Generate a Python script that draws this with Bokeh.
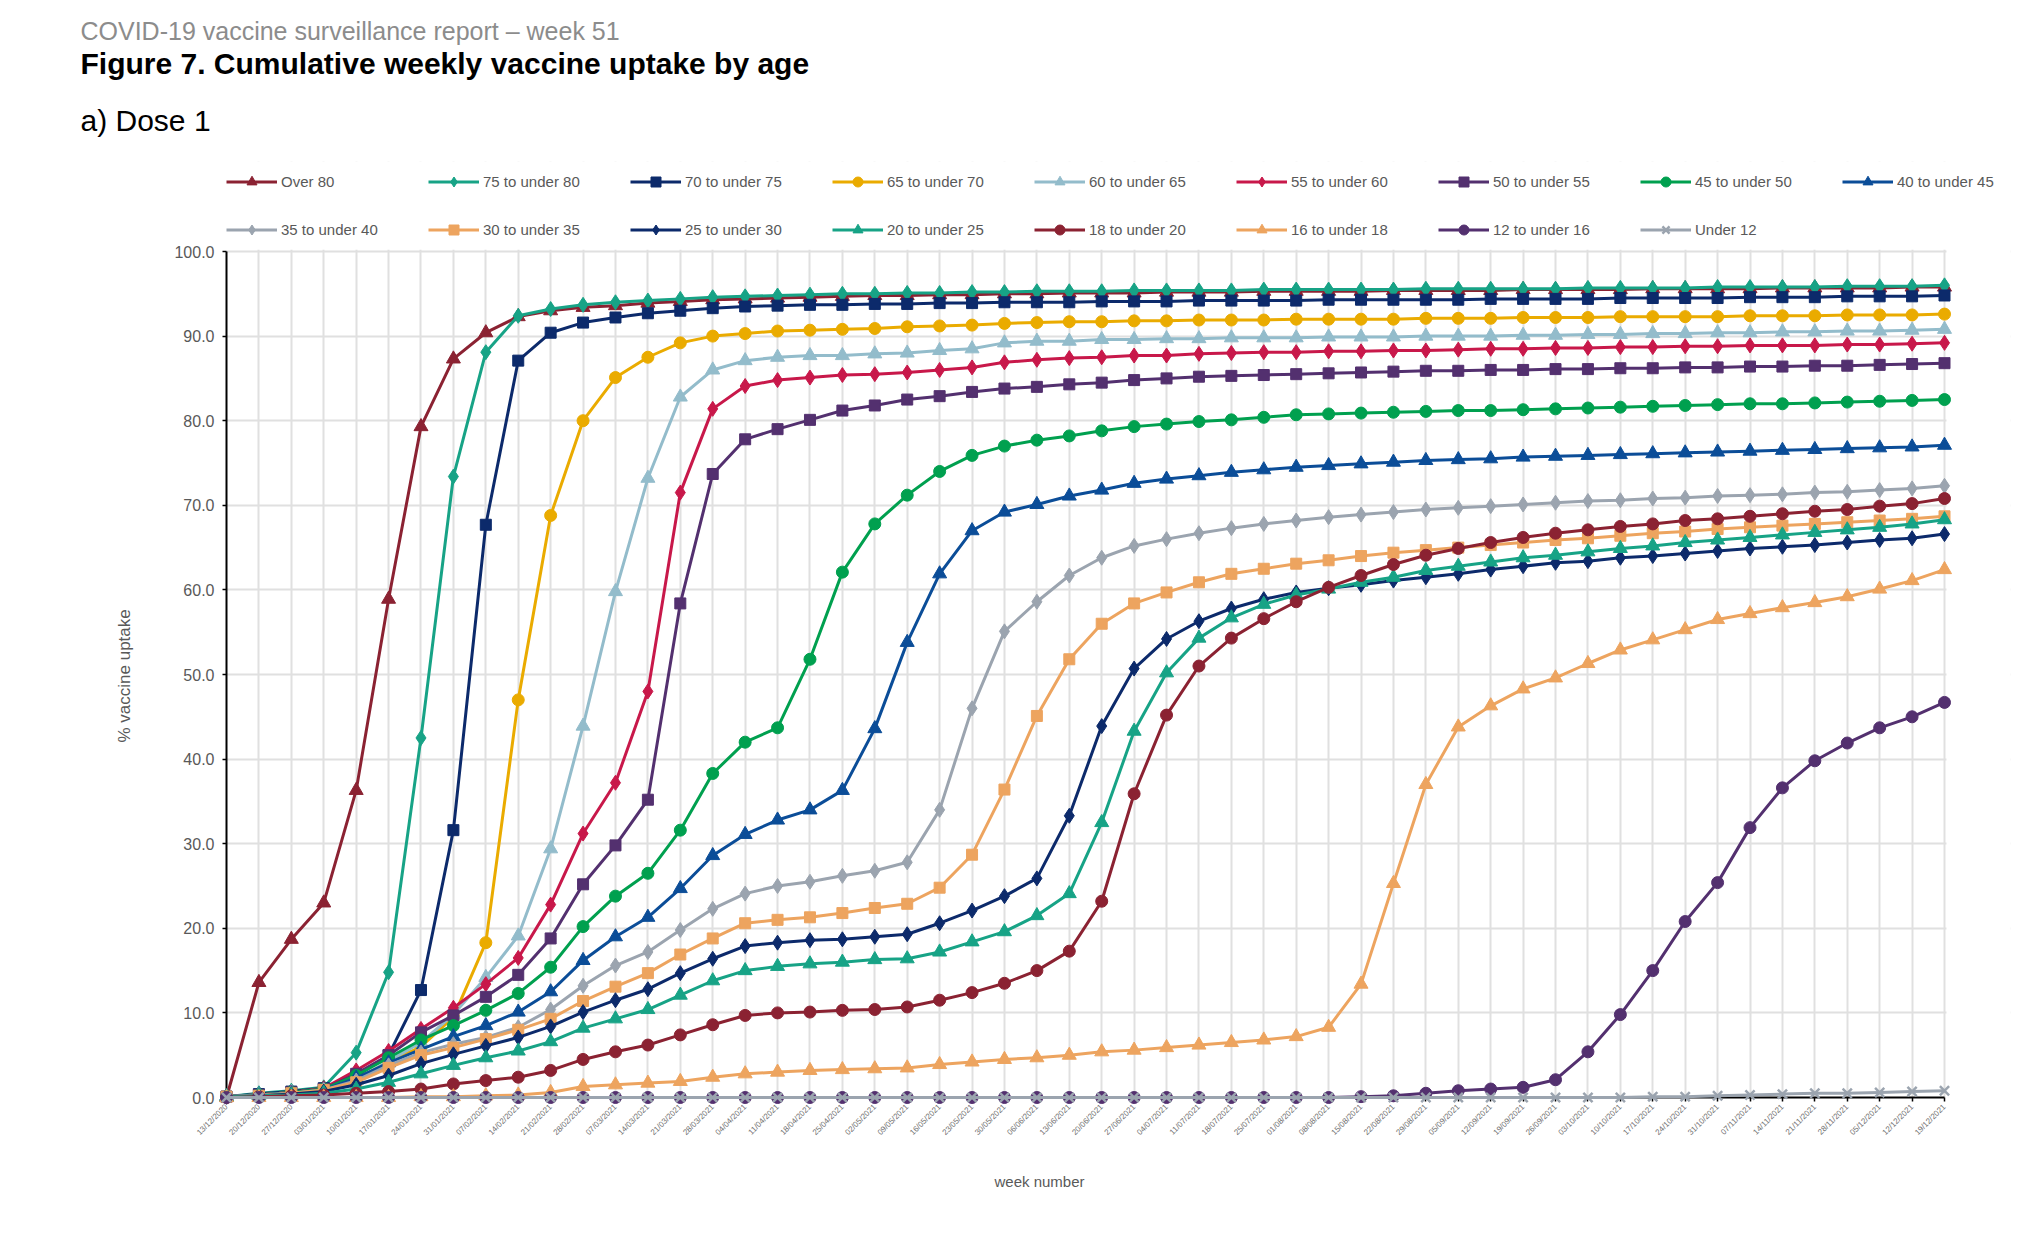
import math
from bokeh.plotting import figure
from bokeh.models import (Range1d, FixedTicker, Legend, LegendItem, Title, NumeralTickFormatter,
                          BoxAnnotation)
from bokeh.embed import file_html
from bokeh.resources import INLINE

dates = ["13/12/2020", "20/12/2020", "27/12/2020", "03/01/2021", "10/01/2021", "17/01/2021",
         "24/01/2021", "31/01/2021", "07/02/2021", "14/02/2021", "21/02/2021", "28/02/2021",
         "07/03/2021", "14/03/2021", "21/03/2021", "28/03/2021", "04/04/2021", "11/04/2021",
         "18/04/2021", "25/04/2021", "02/05/2021", "09/05/2021", "16/05/2021", "23/05/2021",
         "30/05/2021", "06/06/2021", "13/06/2021", "20/06/2021", "27/06/2021", "04/07/2021",
         "11/07/2021", "18/07/2021", "25/07/2021", "01/08/2021", "08/08/2021", "15/08/2021",
         "22/08/2021", "29/08/2021", "05/09/2021", "12/09/2021", "19/09/2021", "26/09/2021",
         "03/10/2021", "10/10/2021", "17/10/2021", "24/10/2021", "31/10/2021", "07/11/2021",
         "14/11/2021", "21/11/2021", "28/11/2021", "05/12/2021", "12/12/2021", "19/12/2021"]

over_80 = [0.0, 13.6, 18.7, 23.0, 36.3, 58.9, 79.3, 87.3, 90.4, 92.3, 93.0, 93.4, 93.6, 93.9, 94.1, 94.3, 94.4, 94.5,
           94.6, 94.7, 94.8, 94.8, 94.9, 94.9, 95.0, 95.0, 95.1, 95.1, 95.1, 95.2, 95.2, 95.2, 95.3, 95.3, 95.3, 95.3,
           95.4, 95.4, 95.4, 95.4, 95.5, 95.5, 95.5, 95.5, 95.6, 95.6, 95.6, 95.6, 95.7, 95.7, 95.7, 95.7, 95.8, 95.8]
age_75_80 = [0.1, 0.5, 0.8, 1.2, 5.3, 14.8, 42.5, 73.4, 88.1, 92.4, 93.2, 93.7, 94.0, 94.2, 94.4, 94.6, 94.7, 94.8,
             94.9, 95.0, 95.0, 95.1, 95.1, 95.2, 95.2, 95.3, 95.3, 95.3, 95.4, 95.4, 95.4, 95.4, 95.5, 95.5, 95.5, 95.5,
             95.5, 95.6, 95.6, 95.6, 95.6, 95.6, 95.7, 95.7, 95.7, 95.7, 95.8, 95.8, 95.8, 95.8, 95.9, 95.9, 95.9, 96.0]
age_70_75 = [0.1, 0.4, 0.7, 1.1, 2.5, 5.0, 12.7, 31.6, 67.7, 87.1, 90.4, 91.6, 92.2, 92.7, 93.0, 93.3, 93.5, 93.6,
             93.7, 93.7, 93.8, 93.8, 93.9, 93.9, 94.0, 94.0, 94.0, 94.1, 94.1, 94.1, 94.2, 94.2, 94.2, 94.2, 94.3, 94.3,
             94.3, 94.3, 94.3, 94.4, 94.4, 94.4, 94.4, 94.5, 94.5, 94.5, 94.5, 94.6, 94.6, 94.6, 94.7, 94.7, 94.7, 94.8]
age_65_70 = [0.1, 0.3, 0.6, 1.0, 2.2, 4.2, 6.0, 9.5, 18.3, 47.0, 68.8, 80.0, 85.1, 87.5, 89.2, 90.0, 90.3, 90.6,
             90.7, 90.8, 90.9, 91.1, 91.2, 91.3, 91.5, 91.6, 91.7, 91.7, 91.8, 91.8, 91.9, 91.9, 91.9, 92.0, 92.0, 92.0,
             92.0, 92.1, 92.1, 92.1, 92.2, 92.2, 92.2, 92.3, 92.3, 92.3, 92.3, 92.4, 92.4, 92.4, 92.5, 92.5, 92.5, 92.6]
age_60_65 = [0.1, 0.3, 0.6, 1.0, 2.0, 4.3, 6.5, 9.8, 14.2, 19.1, 29.4, 43.9, 59.8, 73.2, 82.8, 86.0, 87.1, 87.5,
             87.7, 87.7, 87.9, 88.0, 88.3, 88.5, 89.2, 89.4, 89.4, 89.6, 89.6, 89.7, 89.7, 89.8, 89.8, 89.8, 89.9, 89.9,
             89.9, 90.0, 90.0, 90.0, 90.1, 90.1, 90.2, 90.2, 90.3, 90.3, 90.4, 90.4, 90.5, 90.5, 90.6, 90.6, 90.7, 90.8]
age_55_60 = [0.1, 0.3, 0.6, 1.1, 3.2, 5.5, 8.1, 10.6, 13.4, 16.5, 22.8, 31.2, 37.2, 48.0, 71.5, 81.4, 84.1, 84.8,
             85.1, 85.4, 85.5, 85.7, 86.0, 86.3, 86.9, 87.2, 87.4, 87.5, 87.7, 87.7, 87.9, 88.0, 88.1, 88.1, 88.2, 88.2,
             88.3, 88.3, 88.4, 88.5, 88.5, 88.6, 88.6, 88.7, 88.7, 88.8, 88.8, 88.9, 88.9, 88.9, 89.0, 89.0, 89.1, 89.2]
age_50_55 = [0.1, 0.3, 0.6, 1.0, 2.8, 5.0, 7.7, 9.7, 11.9, 14.5, 18.8, 25.2, 29.8, 35.2, 58.4, 73.7, 77.8, 79.0,
             80.1, 81.2, 81.8, 82.5, 82.9, 83.4, 83.8, 84.0, 84.3, 84.5, 84.8, 85.0, 85.2, 85.3, 85.4, 85.5, 85.6, 85.7,
             85.8, 85.9, 85.9, 86.0, 86.0, 86.1, 86.1, 86.2, 86.2, 86.3, 86.3, 86.4, 86.4, 86.5, 86.5, 86.6, 86.7, 86.8]
age_45_50 = [0.1, 0.3, 0.6, 1.0, 2.6, 4.7, 6.8, 8.5, 10.3, 12.3, 15.4, 20.2, 23.8, 26.5, 31.6, 38.3, 42.0, 43.7,
             51.8, 62.1, 67.8, 71.2, 74.0, 75.9, 77.0, 77.7, 78.2, 78.8, 79.3, 79.6, 79.9, 80.1, 80.4, 80.7, 80.8, 80.9,
             81.0, 81.1, 81.2, 81.2, 81.3, 81.4, 81.5, 81.6, 81.7, 81.8, 81.9, 82.0, 82.0, 82.1, 82.2, 82.3, 82.4, 82.5]
age_40_45 = [0.1, 0.3, 0.5, 0.9, 2.3, 4.1, 5.7, 7.2, 8.5, 10.1, 12.5, 16.2, 19.0, 21.3, 24.7, 28.6, 31.1, 32.8,
             34.0, 36.3, 43.6, 53.8, 61.9, 67.0, 69.2, 70.1, 71.1, 71.8, 72.6, 73.1, 73.5, 73.9, 74.2, 74.5, 74.7, 74.9,
             75.1, 75.3, 75.4, 75.5, 75.7, 75.8, 75.9, 76.0, 76.1, 76.2, 76.3, 76.4, 76.5, 76.6, 76.7, 76.8, 76.9, 77.1]
age_35_40 = [0.1, 0.3, 0.5, 0.9, 2.0, 3.8, 5.3, 6.3, 7.1, 8.3, 10.4, 13.2, 15.6, 17.2, 19.8, 22.3, 24.1, 25.0,
             25.5, 26.2, 26.8, 27.8, 34.0, 46.0, 55.1, 58.6, 61.7, 63.8, 65.2, 66.0, 66.7, 67.3, 67.8, 68.2, 68.6, 68.9,
             69.2, 69.5, 69.7, 69.9, 70.1, 70.3, 70.5, 70.6, 70.8, 70.9, 71.1, 71.2, 71.3, 71.5, 71.6, 71.8, 72.0, 72.3]
age_30_35 = [0.1, 0.2, 0.5, 0.9, 1.8, 3.5, 5.0, 5.9, 6.9, 8.0, 9.3, 11.4, 13.1, 14.7, 16.9, 18.8, 20.6, 21.0,
             21.3, 21.8, 22.4, 22.9, 24.8, 28.7, 36.4, 45.1, 51.8, 56.0, 58.4, 59.7, 60.9, 61.9, 62.5, 63.1, 63.5, 64.0,
             64.4, 64.7, 65.0, 65.3, 65.6, 65.9, 66.1, 66.4, 66.7, 66.9, 67.2, 67.4, 67.6, 67.8, 68.0, 68.2, 68.4, 68.7]
age_25_30 = [0.1, 0.2, 0.4, 0.7, 1.5, 2.6, 4.0, 5.1, 6.1, 7.1, 8.4, 10.1, 11.5, 12.8, 14.7, 16.4, 17.9, 18.3,
             18.6, 18.7, 19.0, 19.3, 20.6, 22.1, 23.8, 25.9, 33.3, 43.9, 50.7, 54.2, 56.3, 57.8, 58.9, 59.7, 60.2, 60.6,
             61.1, 61.5, 61.9, 62.4, 62.8, 63.2, 63.4, 63.8, 64.0, 64.3, 64.6, 64.9, 65.1, 65.3, 65.6, 65.9, 66.1, 66.6]
age_20_25 = [0.1, 0.2, 0.3, 0.5, 1.0, 1.8, 2.8, 3.8, 4.7, 5.5, 6.6, 8.2, 9.3, 10.4, 12.1, 13.8, 15.0, 15.5,
             15.8, 16.0, 16.3, 16.4, 17.2, 18.4, 19.6, 21.5, 24.1, 32.5, 43.3, 50.2, 54.3, 56.7, 58.3, 59.4, 60.1, 60.9,
             61.5, 62.3, 62.8, 63.3, 63.8, 64.1, 64.5, 64.9, 65.2, 65.6, 65.9, 66.2, 66.5, 66.8, 67.1, 67.4, 67.8, 68.3]
age_18_20 = [0.0, 0.1, 0.2, 0.3, 0.5, 0.7, 1.0, 1.6, 2.0, 2.4, 3.2, 4.5, 5.4, 6.2, 7.4, 8.6, 9.7, 10.0,
             10.1, 10.3, 10.4, 10.7, 11.5, 12.4, 13.5, 15.0, 17.3, 23.2, 35.9, 45.2, 51.0, 54.3, 56.6, 58.6, 60.3, 61.7,
             63.0, 64.1, 64.9, 65.6, 66.2, 66.7, 67.1, 67.5, 67.8, 68.2, 68.4, 68.7, 69.0, 69.3, 69.5, 69.9, 70.2, 70.8]
age_16_18 = [0.0, 0.0, 0.0, 0.0, 0.0, 0.0, 0.1, 0.1, 0.2, 0.3, 0.6, 1.3, 1.5, 1.7, 1.9, 2.4, 2.8, 3.0,
             3.2, 3.3, 3.4, 3.5, 3.9, 4.2, 4.5, 4.7, 5.0, 5.4, 5.6, 5.9, 6.2, 6.5, 6.8, 7.2, 8.3, 13.4,
             25.3, 37.0, 43.8, 46.3, 48.3, 49.6, 51.3, 52.9, 54.1, 55.3, 56.5, 57.2, 57.9, 58.5, 59.2, 60.1, 61.1, 62.4]
age_12_16 = [0.0, 0.0, 0.0, 0.0, 0.0, 0.0, 0.0, 0.0, 0.0, 0.0, 0.0, 0.0, 0.0, 0.0, 0.0, 0.0, 0.0, 0.0,
             0.0, 0.0, 0.0, 0.0, 0.0, 0.0, 0.0, 0.0, 0.0, 0.0, 0.0, 0.0, 0.0, 0.0, 0.0, 0.0, 0.0, 0.1,
             0.2, 0.5, 0.8, 1.0, 1.2, 2.1, 5.4, 9.8, 15.0, 20.8, 25.4, 31.9, 36.6, 39.8, 41.9, 43.7, 45.0, 46.7]
under_12 = [0.0, 0.0, 0.0, 0.0, 0.0, 0.0, 0.0, 0.0, 0.0, 0.0, 0.0, 0.0, 0.0, 0.0, 0.0, 0.0, 0.0, 0.0,
            0.0, 0.0, 0.0, 0.0, 0.0, 0.0, 0.0, 0.0, 0.0, 0.0, 0.0, 0.0, 0.0, 0.0, 0.0, 0.0, 0.0, 0.0,
            0.0, 0.0, 0.0, 0.0, 0.0, 0.0, 0.0, 0.0, 0.1, 0.1, 0.2, 0.3, 0.4, 0.5, 0.5, 0.6, 0.7, 0.8]

labels = ["Over 80", "75 to under 80", "70 to under 75", "65 to under 70", "60 to under 65",
          "55 to under 60", "50 to under 55", "45 to under 50", "40 to under 45",
          "35 to under 40", "30 to under 35", "25 to under 30", "20 to under 25",
          "18 to under 20", "16 to under 18", "12 to under 16", "Under 12"]
values = [over_80, age_75_80, age_70_75, age_65_70, age_60_65, age_55_60, age_50_55, age_45_50, age_40_45,
          age_35_40, age_30_35, age_25_30, age_20_25, age_18_20, age_16_18, age_12_16, under_12]
colors = ["#8b2232", "#17a386", "#0c2a6b", "#eaab00", "#93bccb", "#c8184a", "#53306f", "#00a04f", "#0b4d98",
          "#9ba4af", "#eda45f", "#0c2a6b", "#17a386", "#8b2232", "#eda45f", "#53306f", "#9ba4af"]
markers = ["triangle", "diamond", "square", "circle", "triangle", "diamond", "square", "circle", "triangle",
           "diamond", "square", "diamond", "triangle", "circle", "triangle", "circle", "x"]

FONT = "Liberation Sans"
W, H = 2020, 1220
BORDER_L, BORDER_R, BORDER_T, BORDER_B = 226, 10, 161, 123
PLOT_PX_Y = 846                     # pixel height of the 0..100 % band
PX_WEEK = 1718 / 53                 # pixel width of one week
LAST = len(dates) - 1
X_END = LAST + ((W - BORDER_L - BORDER_R) - LAST * PX_WEEK) / PX_WEEK
Y_TOP = 100 * (H - BORDER_T - BORDER_B) / PLOT_PX_Y
weeks = list(range(len(dates)))

p = figure(width=W, height=H, output_backend="svg", toolbar_location=None,
           x_range=Range1d(0, X_END), y_range=Range1d(0, Y_TOP),
           min_border_left=BORDER_L, min_border_right=BORDER_R,
           min_border_top=BORDER_T, min_border_bottom=BORDER_B)
p.outline_line_color = None
p.background_fill_color = "white"
p.border_fill_color = "white"

xa = p.xaxis[0]
ya = p.yaxis[0]
xa.ticker = FixedTicker(ticks=weeks)
xa.bounds = (0, LAST)
xa.major_label_overrides = {i: d for i, d in enumerate(dates)}
xa.major_label_orientation = math.pi / 4
xa.major_label_text_font_size = "8px"
xa.major_label_text_color = "#707070"
xa.major_label_text_font = FONT
xa.major_label_standoff = 4
ya.ticker = FixedTicker(ticks=[0, 10, 20, 30, 40, 50, 60, 70, 80, 90, 100])
ya.formatter = NumeralTickFormatter(format="0.0")
ya.bounds = (0, 100)
ya.major_label_text_font_size = "16px"
ya.major_label_text_color = "#595959"
ya.major_label_text_font = FONT
ya.major_label_standoff = 8
for ax in (xa, ya):
    ax.axis_line_color = "black"
    ax.axis_line_width = 2
    ax.major_tick_line_color = "black"
    ax.major_tick_line_width = 1.5
    ax.major_tick_in = 0
    ax.major_tick_out = 4
    ax.minor_tick_line_color = None
p.grid.grid_line_color = "#e0e0e0"
p.grid.grid_line_width = 2
# blank bands above 100 % (legend area) and right of the last week, hiding the grid there
p.add_layout(BoxAnnotation(bottom=100.2, fill_color="white", fill_alpha=1.0, line_color=None,
                           level="underlay"))
p.add_layout(BoxAnnotation(left=LAST + 0.06, fill_color="white", fill_alpha=1.0, line_color=None,
                           level="underlay"))

items = []
for lab, vals, col, mk in zip(labels, values, colors, markers):
    lr = p.line(weeks, vals, line_color=col, line_width=3, level="overlay")
    if mk == "x":
        sr = p.scatter(weeks, vals, marker="x", size=13, line_color=col, line_width=2.5, level="overlay")
    elif mk == "diamond":
        sr = p.scatter(weeks, vals, marker="diamond", size=15, fill_color=col, line_color=col, level="overlay")
    elif mk == "triangle":
        sr = p.scatter(weeks, vals, marker="triangle", size=14, fill_color=col, line_color=col, level="overlay")
    elif mk == "square":
        sr = p.scatter(weeks, vals, marker="square", size=11, fill_color=col, line_color=col, level="overlay")
    else:
        sr = p.scatter(weeks, vals, marker="circle", size=12, fill_color=col, line_color=col, level="overlay")
    items.append(LegendItem(label=lab, renderers=[lr, sr]))

ROW_H = 25
frame_bottom = H - BORDER_B
legend_style = dict(orientation="horizontal", glyph_width=51, glyph_height=ROW_H, label_width=147,
                    label_height=ROW_H, label_standoff=4, spacing=0, padding=0, margin=0,
                    border_line_color=None, background_fill_alpha=0,
                    label_text_font=FONT, label_text_font_size="15px", label_text_color="#595959")
leg1 = Legend(items=items[:9], location=(0, frame_bottom - (175 + ROW_H / 2) - 6.5), **legend_style)
leg2 = Legend(items=items[9:], location=(0, frame_bottom - (223 + ROW_H / 2) - 6.5), **legend_style)
p.add_layout(leg1, "center")
p.add_layout(leg2, "center")

# axis titles (placed as side-panel titles so they can sit off the frame centre)
p.add_layout(Title(text="% vaccine uptake", align="left", offset=355, standoff=76,
                   text_font=FONT, text_font_size="17px", text_font_style="normal",
                   text_color="#595959"), "left")
p.add_layout(Title(text="week number", align="left", offset=768, standoff=55,
                   text_font=FONT, text_font_size="15px", text_font_style="normal",
                   text_color="#595959"), "below")

p.add_layout(Title(text="a) Dose 1", align="left", offset=-146, standoff=48.4,
                   text_font=FONT, text_font_size="30px", text_font_style="normal",
                   text_color="black"), "above")
p.add_layout(Title(text="Figure 7. Cumulative weekly vaccine uptake by age", align="left", offset=-146,
                   standoff=-2, text_font=FONT, text_font_size="30px", text_font_style="bold",
                   text_color="black"), "above")
p.add_layout(Title(text="COVID-19 vaccine surveillance report \u2013 week 51", align="left", offset=-146,
                   standoff=2, text_font=FONT, text_font_size="25px", text_font_style="normal",
                   text_color="#8c8c8c"), "above")

open("out.html", "w").write(file_html(p, INLINE))
